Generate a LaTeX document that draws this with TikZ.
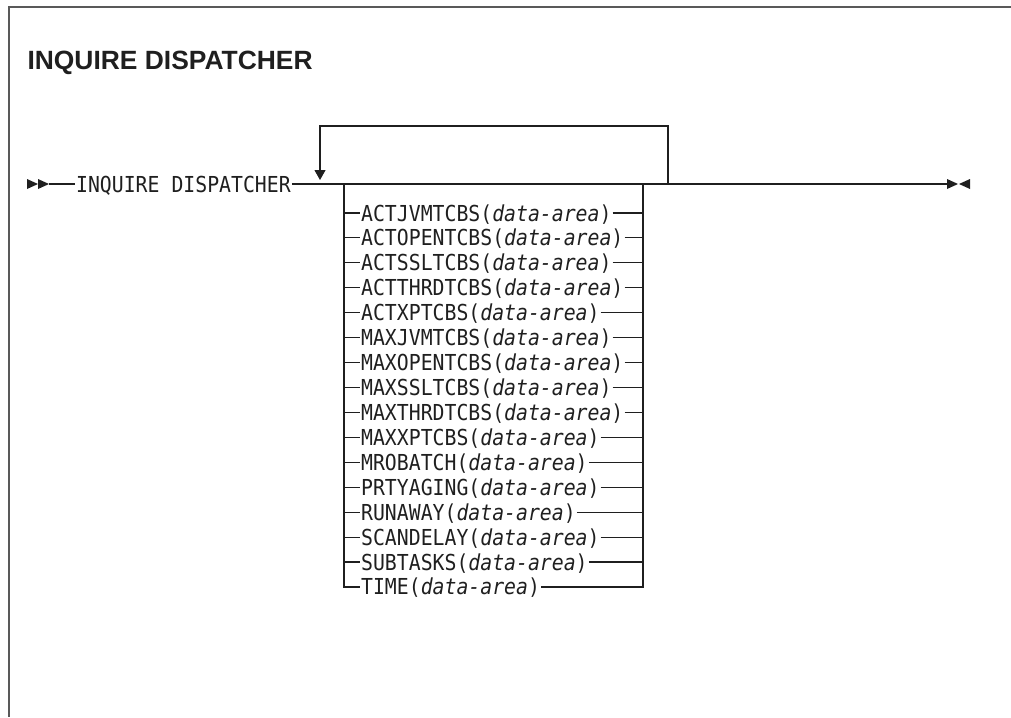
\documentclass[tikz,border=0pt]{standalone}
\usepackage{fontspec}
\setsansfont{Liberation Sans}
\newfontfamily\synfont[FakeStretch=0.9]{DejaVu Sans Mono}
\usetikzlibrary{arrows.meta,positioning}

\begin{document}
\begin{tikzpicture}[
    x=1pt, y=-1pt,
    line width=1.1pt,
    >={Triangle[width=11pt,length=10pt]},
    kwlabel/.style={
        font=\fontsize{22}{24}\selectfont\synfont,
        anchor=west,
        inner sep=0.6pt,
        text height=16pt,
        text depth=0pt
    },
    titlelabel/.style={
        font=\fontsize{26.4}{30}\selectfont\sffamily\bfseries,
        anchor=base west,
        inner sep=0pt
    }
]

\colorlet{inkcol}{black!88}
\colorlet{framecol}{black!65}

\useasboundingbox (0,0) rectangle (1011,717);

\draw[line width=1.6pt, framecol] (1011,7) -- (9,7) -- (9,717);

\node[titlelabel, text=inkcol] (title) at (27,70) {INQUIRE DISPATCHER};

\begin{scope}[inkcol]
    \coordinate (start)  at (49,184);
    \coordinate (loopL)  at (320,184);
    \coordinate (loopR)  at (668,184);
    \coordinate (spineL) at (344,184);
    \coordinate (spineR) at (643,184);
    \coordinate (finish) at (947,184);

    \fill (start) ++(-22,-5) -- ++(11,5) -- ++(-11,5) -- cycle;
    \fill (start) ++(-11,-5) -- ++(11,5) -- ++(-11,5) -- cycle;

    \node[kwlabel, right=26pt of start] (cmd) {INQUIRE DISPATCHER};

    \draw (start) -- (cmd.west);
    \draw (cmd.east) -- (finish);

    \draw[->, shorten >=4pt] (loopR) -- ++(0,-58) -| (loopL);

    \foreach \kw [count=\i] in {ACTJVMTCBS, ACTOPENTCBS, ACTSSLTCBS,
        ACTTHRDTCBS, ACTXPTCBS, MAXJVMTCBS, MAXOPENTCBS, MAXSSLTCBS,
        MAXTHRDTCBS, MAXXPTCBS, MROBATCH, PRTYAGING, RUNAWAY,
        SCANDELAY, SUBTASKS, TIME} {
        \pgfmathsetmacro{\yy}{213+(\i-1)*24.93}
        \node[kwlabel] (opt\i) at (360,\yy) {\kw(\textit{data-area})};
        \draw (spineL |- opt\i.west) -- (opt\i.west);
        \draw (opt\i.east) -- (spineR |- opt\i.east);
    }

    \draw (spineL) -- (spineL |- opt16.west) -- (opt16.west);
    \draw (opt16.east) -- (spineR |- opt16.east) -- (spineR);

    \fill (finish) ++(0,-5) -- ++(11,5) -- ++(-11,5) -- cycle;
    \fill (finish) ++(23,-5) -- ++(-11,5) -- ++(11,5) -- cycle;
\end{scope}

\end{tikzpicture}
\end{document}
